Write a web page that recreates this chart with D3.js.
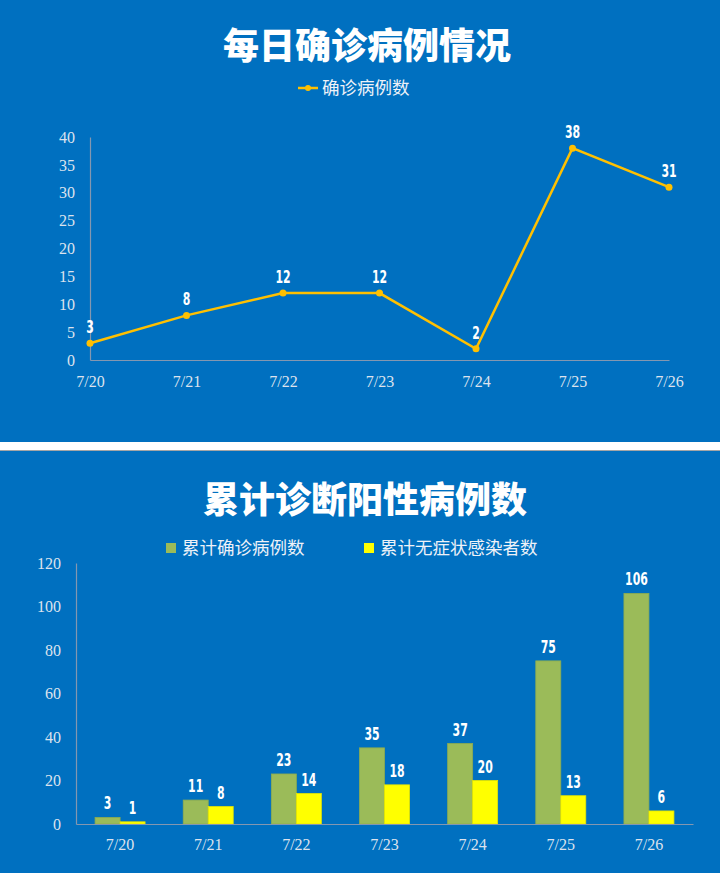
<!DOCTYPE html>
<html>
<head>
<meta charset="utf-8">
<script src="https://cdn.jsdelivr.net/npm/d3@7"></script>
<style>
  body { margin: 0; background: #fff; }
  svg { display: block; }
  .tick text { font-family: "Liberation Serif", "Times New Roman", serif; }
</style>
</head>
<body>
<div id="chart"></div>
<script>
// Dates on the x axis (both charts).
var dates = ["7/20", "7/21", "7/22", "7/23", "7/24", "7/25", "7/26"];
// Daily confirmed cases.
var dailyCases = [3, 8, 12, 12, 2, 38, 31];
// Cumulative confirmed and cumulative asymptomatic.
var totalCases = [3, 11, 23, 35, 37, 75, 106];
var totalAsym = [1, 8, 14, 18, 20, 13, 6];
var yTicksTop = [0, 5, 10, 15, 20, 25, 30, 35, 40];
var yTicksBottom = [0, 20, 40, 60, 80, 100, 120];

var width = 720, height = 873;
var blue = "#0070C0";
var labelFont = '"Liberation Sans Narrow", "DejaVu Sans Condensed", sans-serif';
var cjk = '"Noto Sans CJK SC", sans-serif';

var svg = d3.select("#chart").append("svg")
    .attr("width", width)
    .attr("height", height);

// backgrounds: two blue panels split by a white band
svg.append("rect").attr("x", 0).attr("y", 0).attr("width", width).attr("height", 442).attr("fill", blue);
svg.append("rect").attr("x", 0).attr("y", 451).attr("width", width).attr("height", height - 451).attr("fill", blue);
svg.append("line").attr("x1", 0).attr("x2", width).attr("y1", 450.5).attr("y2", 450.5)
    .attr("stroke", "#a6a6a6").attr("stroke-width", 1);

function styleAxis(g) {
    g.select(".domain").attr("stroke", "#8497b0").attr("stroke-width", 1.2);
    g.selectAll(".tick line").remove();
    g.selectAll(".tick text").attr("fill", "#dde3ee").attr("font-size", 16);
}

// data labels: tall narrow bold digits (squeezed to look like Impact)
function valueLabel(sel) {
    sel.attr("text-anchor", "middle")
        .attr("fill", "#fff")
        .attr("font-family", labelFont)
        .attr("font-weight", "bold")
        .attr("font-size", 18)
        .attr("font-stretch", "condensed")
        .attr("textLength", d => String(d).length * 7.6)
        .attr("lengthAdjust", "spacingAndGlyphs");
}

// ---------- top chart: daily line ----------
var topG = svg.append("g");

topG.append("text")
    .attr("x", 367).attr("y", 59)
    .attr("text-anchor", "middle")
    .attr("fill", "#fff")
    .attr("font-family", cjk)
    .attr("font-weight", 900)
    .attr("font-size", 36)
    .text("每日确诊病例情况");

// legend
topG.append("line").attr("x1", 298).attr("x2", 318).attr("y1", 88).attr("y2", 88)
    .attr("stroke", "#FFC000").attr("stroke-width", 2.5);
topG.append("circle").attr("cx", 308).attr("cy", 88).attr("r", 3).attr("fill", "#FFC000");
topG.append("text").attr("x", 322).attr("y", 94)
    .attr("fill", "#eef2f8").attr("font-family", cjk).attr("font-size", 17.5)
    .text("确诊病例数");

var xTop = d3.scalePoint().domain(dates).range([90, 669]);
var yTop = d3.scaleLinear().domain([0, 40]).range([360, 137]);

topG.append("g")
    .attr("transform", "translate(90,0)")
    .call(d3.axisLeft(yTop).tickValues(yTicksTop).tickSize(0).tickPadding(15))
    .call(styleAxis);

topG.append("g")
    .attr("transform", "translate(0,360)")
    .call(d3.axisBottom(xTop).tickSize(0).tickPadding(16))
    .call(styleAxis);

var line = d3.line()
    .x((d, i) => xTop(dates[i]))
    .y(d => yTop(d));

topG.append("path")
    .datum(dailyCases)
    .attr("d", line)
    .attr("fill", "none")
    .attr("stroke", "#FFC000")
    .attr("stroke-width", 2.5);

topG.selectAll(".pt")
    .data(dailyCases)
    .enter().append("circle")
    .attr("cx", (d, i) => xTop(dates[i]))
    .attr("cy", d => yTop(d))
    .attr("r", 3.5)
    .attr("fill", "#FFC000");

topG.selectAll(".lbl")
    .data(dailyCases)
    .enter().append("text")
    .attr("x", (d, i) => xTop(dates[i]))
    .attr("y", d => yTop(d) - 10)
    .call(valueLabel)
    .text(d => d);

// ---------- bottom chart: cumulative bars ----------
var botG = svg.append("g");

botG.append("text")
    .attr("x", 365).attr("y", 513)
    .attr("text-anchor", "middle")
    .attr("fill", "#fff")
    .attr("font-family", cjk)
    .attr("font-weight", 900)
    .attr("font-size", 36)
    .text("累计诊断阳性病例数");

var series = [
    { name: "累计确诊病例数", values: totalCases, color: "#9BBB59", lx: 166 },
    { name: "累计无症状感染者数", values: totalAsym, color: "#FFFF00", lx: 364 }
];

series.forEach(function(s) {
    botG.append("rect").attr("x", s.lx).attr("y", 543).attr("width", 10).attr("height", 10).attr("fill", s.color);
    botG.append("text").attr("x", s.lx + 16).attr("y", 554)
        .attr("fill", "#eef2f8").attr("font-family", cjk).attr("font-size", 17.5)
        .text(s.name);
});

var xBot = d3.scaleBand().domain(dates).range([76, 693])
    .paddingInner(0.433).paddingOuter(0.2165);
var xSub = d3.scaleBand().domain([0, 1]).range([0, xBot.bandwidth()]);
var yBot = d3.scaleLinear().domain([0, 120]).range([824, 563]);

series.forEach(function(s, si) {
    botG.selectAll(".bar" + si)
        .data(s.values)
        .enter().append("rect")
        .attr("x", (d, i) => xBot(dates[i]) + xSub(si))
        .attr("y", d => yBot(d))
        .attr("width", xSub.bandwidth())
        .attr("height", d => yBot(0) - yBot(d))
        .attr("fill", s.color)
        .attr("stroke", si === 0 ? "#8eac4f" : "#e6e600")
        .attr("stroke-width", 0.8);

    botG.selectAll(".blbl" + si)
        .data(s.values)
        .enter().append("text")
        .attr("x", (d, i) => xBot(dates[i]) + xSub(si) + xSub.bandwidth() / 2)
        .attr("y", d => yBot(d) - 8)
        .call(valueLabel)
        .text(d => d);
});

botG.append("g")
    .attr("transform", "translate(76,0)")
    .call(d3.axisLeft(yBot).tickValues(yTicksBottom).tickSize(0).tickPadding(15))
    .call(styleAxis);

botG.append("g")
    .attr("transform", "translate(0,824)")
    .call(d3.axisBottom(xBot).tickSize(0).tickPadding(15))
    .call(styleAxis);
</script>
</body>
</html>
